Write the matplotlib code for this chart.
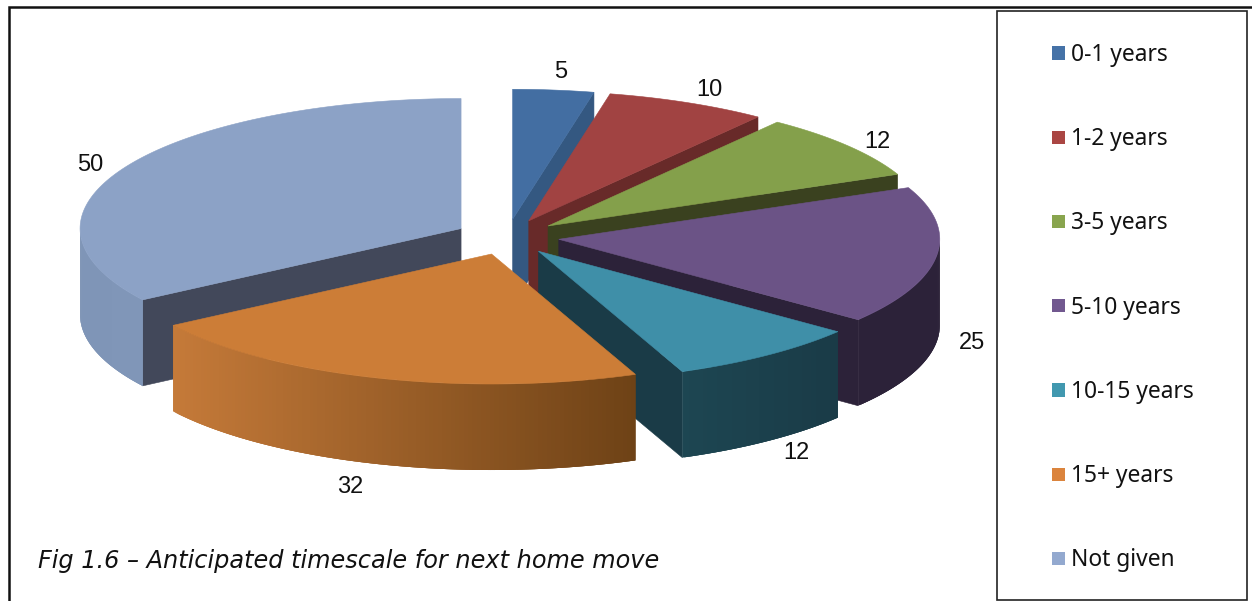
import numpy as np
import matplotlib
matplotlib.use("Agg")
import matplotlib.pyplot as plt
from matplotlib.colors import to_rgb
from matplotlib.patches import Patch, Polygon, Rectangle

# Survey responses per timescale
categories = ["0-1 years", "1-2 years", "3-5 years", "5-10 years",
              "10-15 years", "15+ years", "Not given"]
values = [5, 10, 12, 25, 12, 32, 50]
caption = "Fig 1.6 \u2013 Anticipated timescale for next home move"

# Slice styling
legend_colors = ["#4572A7", "#AA4643", "#89A54E", "#71588F", "#4198AF", "#DB843D", "#93A9CF"]
top_colors = ["#436EA2", "#A14342", "#84A04B", "#6B5386", "#3F8FA8", "#CC7D37", "#8CA2C6"]
face_colors = ["#345881", "#682A29", "#3A411F", "#2C2239", "#1A3B47", "#1A3B47", "#42485A"]
rim_right = ["#345881", "#682A29", "#3A411F", "#2C2239", "#1A3B47", "#6E4216", "#8096B8"]
rim_left = ["#345881", "#682A29", "#3A411F", "#2C2239", "#1D4652", "#C57A39", "#7F95B7"]
label_nudge = [(7, -18), (22, -13), (30, -4), (35, 1), (29, 12), (-28, 23), (-36, -2)]
paint_order = [0, 1, 2, 3, 6, 4, 5]

# Pie projection, in figure pixels
CX, CY = 507, 237
RX, RY = 381, 130
DEPTH = 86
EXPLODE = 0.137

fig = plt.figure(figsize=(12.52, 6.01), dpi=100)
ax = fig.add_axes([0, 0, 1, 1])
ax.set_xlim(0, 1252)
ax.set_ylim(601, 0)
ax.axis("off")


def rim(theta, apex):
    return apex[0] + RX * np.sin(theta), apex[1] - RY * np.cos(theta)


edges = np.cumsum([0] + values) / sum(values) * 2 * np.pi
for i in paint_order:
    t1, t2 = edges[i], edges[i + 1]
    mid = (t1 + t2) / 2
    apex = (CX + EXPLODE * RX * np.sin(mid), CY - EXPLODE * RY * np.cos(mid))
    inward = np.array([RX * np.sin(mid), -RY * np.cos(mid)])

    # Cut faces that turn towards the viewer
    for t in (t1, t2):
        edge = np.array([RX * np.sin(t), -RY * np.cos(t)])
        normal = np.array([-edge[1], edge[0]])
        if normal @ inward > 0:
            normal = -normal
        if normal[1] > 1e-6:
            x, y = rim(t, apex)
            ax.add_patch(Polygon([apex, (x, y), (x, y + DEPTH), (apex[0], apex[1] + DEPTH)],
                                 closed=True, fc=face_colors[i], ec=face_colors[i], lw=0.4))

    # Outer wall, shaded left to right across the slice; strips overlap to hide seams
    a, b = max(t1, np.pi / 2), min(t2, 3 * np.pi / 2)
    if b > a:
        arc = np.linspace(a, b, 121)[::-1]
        xs, ys = rim(arc, apex)
        span = max(xs.max() - xs.min(), 1)
        left, right = np.array(to_rgb(rim_left[i])), np.array(to_rgb(rim_right[i]))
        for j in range(len(arc) - 1):
            k = min(j + 3, len(arc) - 1)
            outline = np.column_stack([xs[j:k + 1], ys[j:k + 1]])
            lower = outline[::-1] + np.array([0, DEPTH])
            f = ((xs[j] + xs[j + 1]) / 2 - xs.min()) / span
            ax.add_patch(Polygon(np.vstack([outline, lower]), closed=True,
                                 fc=left + (right - left) * f, ec="none"))

    # Top surface
    arc = np.linspace(t1, t2, 160)
    xs, ys = rim(arc, apex)
    ax.add_patch(Polygon(np.vstack([[apex], np.column_stack([xs, ys])]), closed=True,
                         fc=top_colors[i], ec=top_colors[i], lw=0.4))

    # Value label beside the rim
    lx, ly = rim(mid, apex)
    if np.cos(mid) < 0:
        ly += DEPTH
    ax.text(lx + label_nudge[i][0], ly + label_nudge[i][1], str(values[i]),
            ha="center", va="center", fontsize=17, color="#111111",
            family=["Liberation Sans Narrow", "Liberation Sans"])

ax.text(38, 561, caption, ha="left", va="center", fontsize=17.3, style="italic",
        color="#111111", family="DejaVu Sans")

# Chart frame and legend box
ax.plot([9, 9, 1252], [601, 7, 7], color="#111111", lw=1.8, solid_joinstyle="miter")
ax.add_patch(Rectangle((997, 11), 250, 589, fc="white", ec="#222222", lw=1.2))

handles = [Patch(fc=c, ec="none") for c in legend_colors]
ax.legend(handles, categories, loc="upper left", bbox_to_anchor=(1052, 43),
          bbox_transform=ax.transData, frameon=False,
          prop={"family": "Noto Sans", "size": 16.4}, labelspacing=2.645, borderpad=0, borderaxespad=0,
          handlelength=0.57, handleheight=0.52, handletextpad=0.28, labelcolor="#111111")

fig.savefig("out.png", dpi=100)
